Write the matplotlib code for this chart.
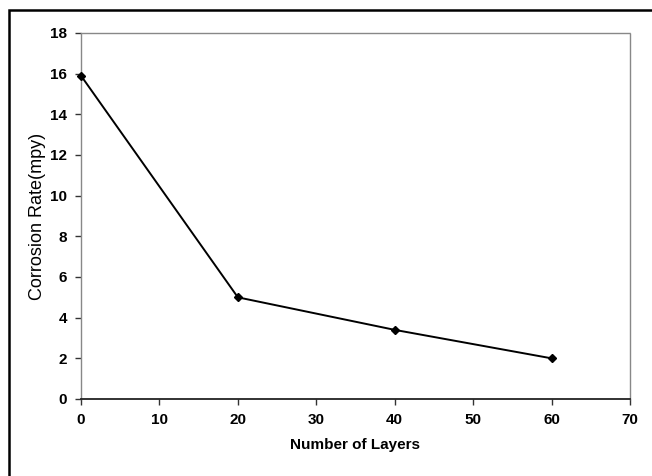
import matplotlib
matplotlib.use('Agg')
import matplotlib.pyplot as plt
from matplotlib.patches import Rectangle

layers = [0, 20, 40, 60]
corrosion_rate = [15.9, 5.0, 3.4, 2.0]
x_ticks = [0, 10, 20, 30, 40, 50, 60, 70]
y_ticks = [0, 2, 4, 6, 8, 10, 12, 14, 16, 18]

plt.rcParams['font.family'] = ['Liberation Sans', 'DejaVu Sans']

fig = plt.figure(figsize=(6.52, 4.76), dpi=100)
fig.patch.set_facecolor('white')

# outer box round the whole chart
fig.patches.append(Rectangle((9 / 652, -0.05), 1.0, (476 - 10) / 476 + 0.05,
                             transform=fig.transFigure, fill=False,
                             edgecolor='black', linewidth=1.8))

ax = fig.add_axes([81 / 652, (476 - 399) / 476, (630 - 81) / 652, (399 - 33) / 476])
ax.plot(layers, corrosion_rate, color='black', linewidth=1.4,
        marker='D', markersize=4.5, clip_on=False, zorder=3)

ax.set_xlim(0, 70)
ax.set_ylim(0, 18)
ax.set_xticks(x_ticks)
ax.set_yticks(y_ticks)

for side in ['top', 'right', 'left']:
    ax.spines[side].set_color('#888888')
    ax.spines[side].set_linewidth(1.0)
    ax.spines[side].set_linestyle((0, (3, 1)))
ax.spines['bottom'].set_color('#222222')
ax.spines['bottom'].set_linewidth(1.3)

ax.tick_params(axis='both', direction='out', length=4, width=1.0, color='#333333',
               labelsize=11, pad=6)
for lbl in ax.get_xticklabels() + ax.get_yticklabels():
    lbl.set_fontweight('bold')

ax.set_xlabel('Number of Layers', fontsize=11, fontweight='bold', labelpad=8)
ax.set_ylabel('Corrosion Rate(mpy)', fontsize=13)
ax.yaxis.set_label_coords(-0.064, 0.5)

fig.savefig('out.png', dpi=100)
